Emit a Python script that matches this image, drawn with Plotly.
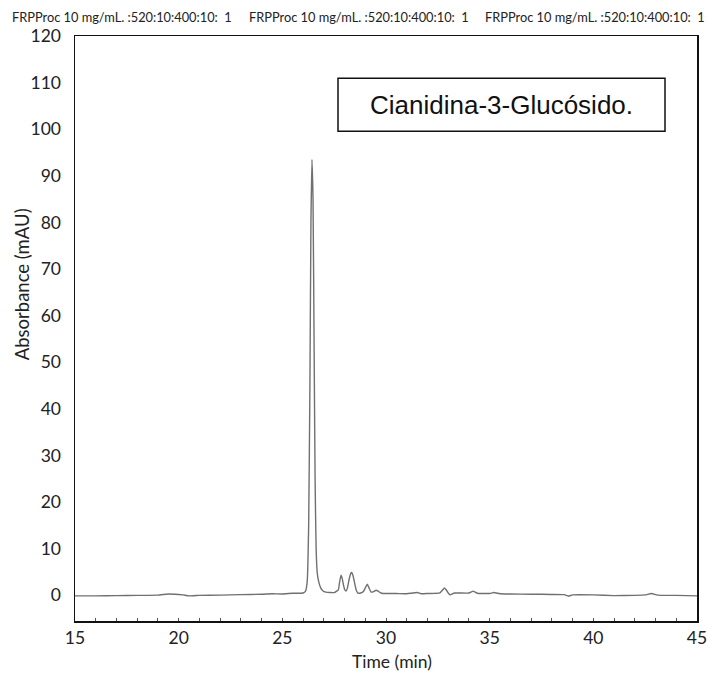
import plotly.graph_objects as go

# Chromatogram trace (time in min, absorbance in mAU)
time_min = [15.0, 16.0, 17.0, 18.0, 19.0, 19.5, 19.8, 20.2, 20.5, 21.0, 22.0, 23.0,
            24.0, 24.5, 25.0, 25.5, 26.0, 26.12, 26.2, 26.27, 26.33, 26.38, 26.43,
            26.48, 26.53, 26.58, 26.63, 26.68, 26.75, 26.85, 26.95, 27.1, 27.5,
            27.7, 27.76, 27.83, 27.89, 27.95, 28.01, 28.07, 28.14, 28.22, 28.3,
            28.35, 28.41, 28.48, 28.56, 28.64, 28.78, 28.92, 29.02, 29.1, 29.18,
            29.28, 29.4, 29.52, 29.62, 29.72, 29.86, 30.5, 31.0, 31.5, 31.7, 32.0,
            32.6, 32.72, 32.82, 32.92, 33.02, 33.1, 33.2, 33.3, 34.0, 34.12, 34.2,
            34.3, 34.4, 35.0, 35.2, 35.5, 36.0, 37.0, 38.0, 38.6, 38.8, 39.0, 40.0,
            41.0, 42.0, 42.5, 42.8, 43.1, 44.0, 45.0]
absorbance_mau = [-0.1, -0.1, -0.05, 0.0, 0.05, 0.3, 0.25, 0.1, -0.1, 0.0, 0.05, 0.15,
                  0.25, 0.35, 0.3, 0.45, 0.5, 0.9, 3.0, 15.0, 45.0, 80.0, 93.5,
                  85.0, 55.0, 25.0, 10.0, 5.0, 3.0, 1.6, 1.0, 0.7, 0.6,
                  1.2, 2.8, 4.3, 3.6, 2.2, 1.2, 0.9, 1.6, 3.4, 4.7,
                  4.9, 4.2, 2.8, 1.2, 0.5, 0.5, 0.9, 1.8, 2.4, 1.6,
                  0.7, 0.8, 1.1, 0.9, 0.6, 0.4, 0.4, 0.35, 0.6, 0.35, 0.4,
                  0.55, 1.1, 1.6, 1.1, 0.4, 0.1, 0.3, 0.5, 0.5, 0.75, 0.9,
                  0.7, 0.45, 0.4, 0.6, 0.35, 0.3, 0.25, 0.2, 0.15, -0.15, 0.1, 0.1,
                  -0.05, 0.0, 0.1, 0.4, 0.05, 0.0, -0.1]

x_ticks = [15, 20, 25, 30, 35, 40, 45]
y_ticks = [0, 10, 20, 30, 40, 50, 60, 70, 80, 90, 100, 110, 120]
header_text = "FRPProc 10 mg/mL. :520:10:400:10:\u00a0\u00a01"
label_text = "Cianidina-3-Glucósido."
x_title = "Time (min)"
y_title = "Absorbance (mAU)"

FONT = "Lato, 'Open Sans', sans-serif"
TXT = "#222222"

# plot area in page pixels: left 75, right 697, top 35.7, bottom 620.7
def px(x):
    return (x - 75) / 622

def py(y):
    return (620.7 - y) / 585

fig = go.Figure()
fig.add_trace(go.Scatter(x=time_min, y=absorbance_mau, mode="lines",
                         line=dict(color="#707070", width=1.4, shape="spline", smoothing=0.4),
                         showlegend=False))

fig.update_layout(
    width=708, height=673,
    margin=dict(l=75, r=11, t=36, b=52, autoexpand=False),
    paper_bgcolor="white", plot_bgcolor="white",
    font=dict(family=FONT, color=TXT),
    xaxis=dict(range=[15, 45], tickvals=x_ticks, showgrid=False, zeroline=False,
               showline=True, mirror=True, linecolor="#111111", linewidth=1.5,
               ticks="inside", ticklen=3, tickcolor="#555555",
               minor=dict(dtick=1, ticks="inside", ticklen=3, tickcolor="#555555"),
               tickfont=dict(size=17.5, family=FONT, color=TXT)),
    yaxis=dict(range=[-5.5, 120], tickvals=y_ticks, showgrid=False, zeroline=False,
               showline=True, mirror=True, linecolor="#111111", linewidth=1.5,
               ticks="", ticklabelstandoff=9,
               tickfont=dict(size=17.5, family=FONT, color=TXT)),
)

fig.add_annotation(text=x_title, xref="paper", yref="paper", x=px(392), y=py(661),
                   xanchor="center", yanchor="middle", showarrow=False,
                   font=dict(size=17.5, family=FONT, color=TXT))
fig.add_annotation(text=y_title, xref="paper", yref="paper", x=px(22), y=py(284),
                   xanchor="center", yanchor="middle", showarrow=False, textangle=-90,
                   font=dict(size=18.5, family=FONT, color=TXT))

for xpos in [10, 247, 483]:
    fig.add_annotation(text=header_text, xref="paper", yref="paper",
                       x=px(xpos), y=py(17),
                       xanchor="left", yanchor="middle", showarrow=False,
                       font=dict(size=12.8, family=FONT, color=TXT))

fig.add_shape(type="rect", xref="paper", yref="paper",
              x0=px(338), x1=px(665), y0=py(131), y1=py(78),
              line=dict(color="#111111", width=1.5), fillcolor="white")
fig.add_annotation(text=label_text, xref="paper", yref="paper",
                   x=px(501), y=py(105),
                   xanchor="center", yanchor="middle", showarrow=False,
                   font=dict(size=26, family="Liberation Sans, Arial, sans-serif", color="#111111"))

fig.write_html("out.html",
               config={"displayModeBar": False, "staticPlot": True},
               post_script="document.body.style.margin='0';document.documentElement.style.overflow='hidden';")
